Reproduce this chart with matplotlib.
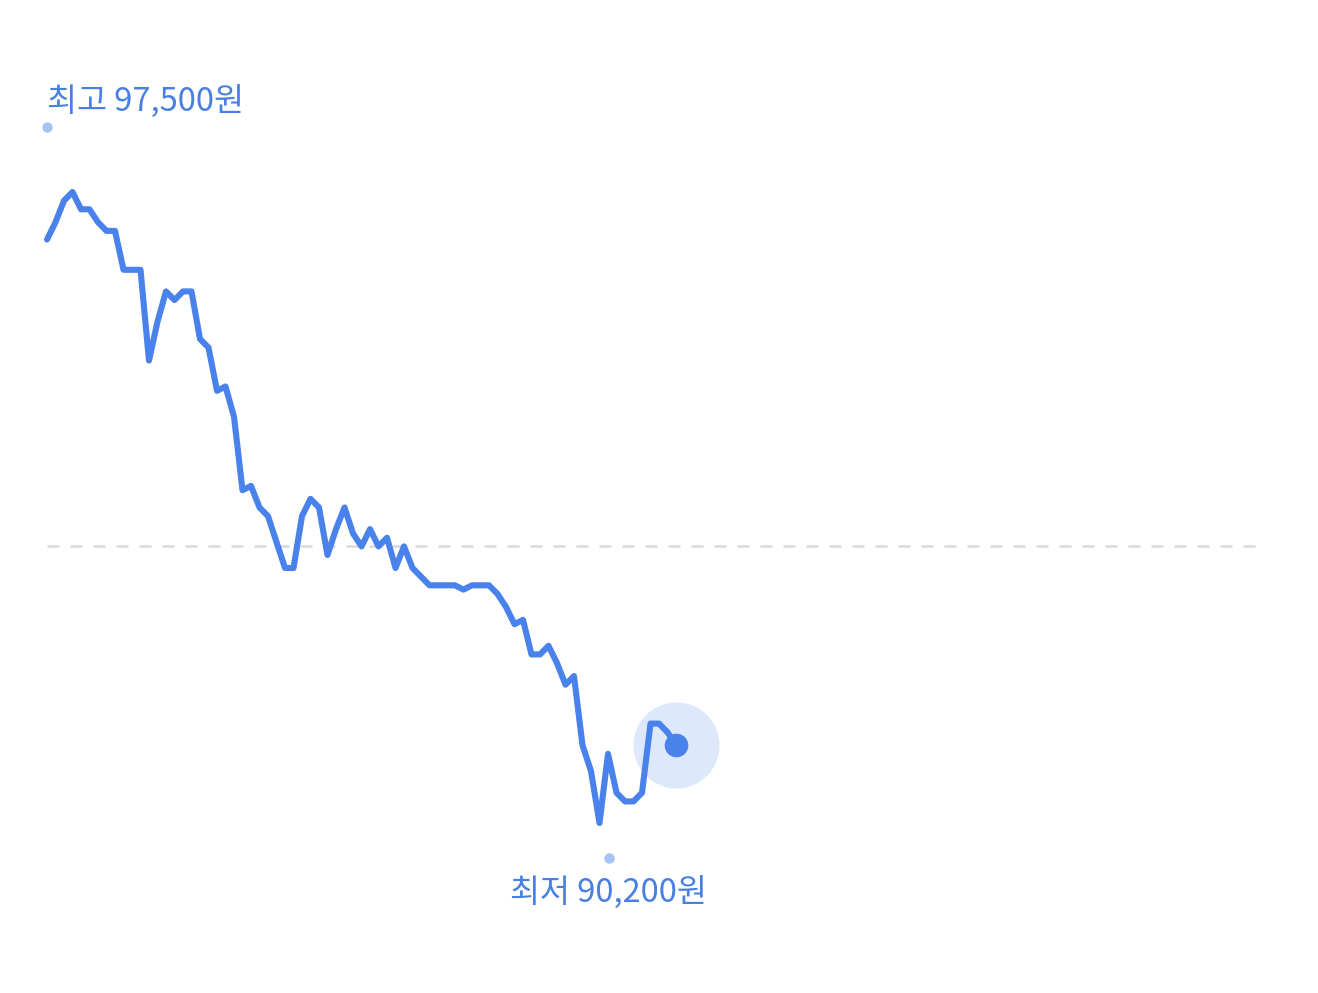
import matplotlib.pyplot as plt
from matplotlib.transforms import ScaledTranslation
import numpy as np

# 일별 가격 (원)
prices = [96950, 97150, 97400, 97500, 97300, 97300, 97150, 97050, 97050, 96600,
          96600, 96600, 95550, 96000, 96350, 96250, 96350, 96350, 95800, 95700,
          95200, 95250, 94900, 94050, 94100, 93850, 93750, 93450, 93150, 93150,
          93750, 93950, 93850, 93300, 93600, 93850, 93550, 93400, 93600, 93400,
          93500, 93150, 93400, 93150, 93050, 92950, 92950, 92950, 92950, 92900,
          92950, 92950, 92950, 92850, 92700, 92500, 92550, 92150, 92150, 92250,
          92050, 91800, 91900, 91100, 90800, 90200, 91000, 90550, 90450, 90450,
          90550, 91350, 91350, 91250, 91100]
base_price = 93400          # 기준선 (점선)
n_slots = 143               # 하루 전체 슬롯 수
label_high = "최고 97,500원"
label_low = "최저 90,200원"

plt.rcParams['font.family'] = ['Noto Sans CJK KR', 'DejaVu Sans']

blue = '#4a82ec'
blue_text = '#4a7fe2'
dot_light = '#a6c3f4'
halo = '#dee8fb'

W, H = 1318, 993
fig = plt.figure(figsize=(W / 100, H / 100), dpi=100)
ax = fig.add_axes([0, 0, 1, 1])
ax.set_axis_off()

prices = np.array(prices, dtype=float)
x = np.arange(len(prices))

# 픽셀 배치: 슬롯 간격 8.5px, 첫 점 x=47px, 최고가 y=192px, 최저가 y=823px
step = 8.5
x0 = 47
ax.set_xlim(-x0 / step, (W - x0) / step)
won_per_px = (prices.max() - prices.min()) / (823 - 192)
ax.set_ylim(prices.max() - (H - 192) * won_per_px, prices.max() + 192 * won_per_px)


def shifted(dx, dy):
    # 픽셀 단위 오프셋
    return ax.transData + ScaledTranslation(dx / 100, dy / 100, fig.dpi_scale_trans)


# 기준 점선
ax.hlines(base_price, 0, n_slots - 0.4, colors='#d9d9d9', linewidth=1.8,
          linestyles=(0, (4.8, 4.4)), zorder=1)

# 가격선
ax.plot(x, prices, color=blue, linewidth=4.4, solid_joinstyle='round',
        solid_capstyle='round', zorder=3)

# 현재가 표시
ax.plot(x[-1], prices[-1], 'o', ms=62, color=halo, mec='none', zorder=2)
ax.plot(x[-1], prices[-1], 'o', ms=17, color=blue, mec='none', zorder=4)

# 최고/최저 라벨
i_hi = int(np.argmax(prices))
i_lo = int(np.argmin(prices))
ax.plot(0, prices[i_hi], 'o', ms=7.5, color=dot_light, mec='none', zorder=3,
        transform=shifted(0, 65))
ax.text(0, prices[i_hi], label_high, fontsize=23.5, color=blue_text,
        ha='left', va='center', transform=shifted(0, 91))

ax.plot(i_lo, prices[i_lo], 'o', ms=7.5, color=dot_light, mec='none', zorder=3,
        transform=shifted(9, -35))
ax.text(i_lo, prices[i_lo], label_low, fontsize=23.5, color=blue_text,
        ha='center', va='center', transform=shifted(9, -69))

fig.savefig('out.png', dpi=100, facecolor='white')
